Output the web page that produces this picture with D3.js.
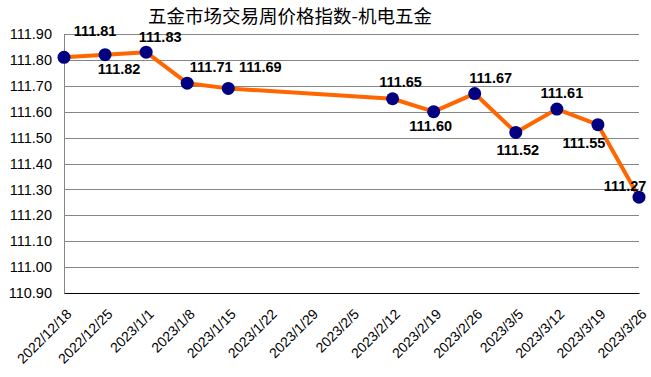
<!DOCTYPE html>
<head>
<meta charset="utf-8">
<title>五金市场交易周价格指数-机电五金</title>
<style>
  body { margin: 0; background: #fff; }
  text { font-family: "Liberation Sans", Arial, sans-serif; }
</style>
</head>
<body>
<svg width="651" height="377"></svg>
<script src="https://d3js.org/d3.v7.min.js"></script>
<script>
    // weekly dates and index values (null = no survey that week)
    const weeks = ["2022/12/18", "2022/12/25", "2023/1/1", "2023/1/8", "2023/1/15",
        "2023/1/22", "2023/1/29", "2023/2/5", "2023/2/12", "2023/2/19",
        "2023/2/26", "2023/3/5", "2023/3/12", "2023/3/19", "2023/3/26"];
    const values = [111.81, 111.82, 111.83, 111.71, 111.69,
        null, null, null, 111.65, 111.60,
        111.67, 111.52, 111.61, 111.55, 111.27];
    const yTicks = [110.9, 111.0, 111.1, 111.2, 111.3, 111.4, 111.5, 111.6, 111.7, 111.8, 111.9];

    // where each value label sits relative to its point
    const labelOffset = {
        "2022/12/18": [31, -21], "2022/12/25": [14, 19], "2023/1/1": [14, -10],
        "2023/1/8": [24, -11], "2023/1/15": [32, -16], "2023/2/12": [8, -12],
        "2023/2/19": [-3, 19], "2023/2/26": [16, -11], "2023/3/5": [2, 23],
        "2023/3/12": [5, -11], "2023/3/19": [-14, 23], "2023/3/26": [-14, -6]
    };

    const svg = d3.select("svg");
    const margin = { top: 34, right: 12, bottom: 84, left: 64 };
    const width = 651 - margin.left - margin.right;
    const height = 377 - margin.top - margin.bottom;

    const data = weeks.map((w, i) => ({ week: w, value: values[i] }))
        .filter(d => d.value != null);

    const x = d3.scalePoint().domain(weeks).range([0, width]);
    const y = d3.scaleLinear().domain([110.9, 111.9]).range([height, 0]);

    svg.append("text")
        .attr("x", 290)
        .attr("y", 23)
        .attr("text-anchor", "middle")
        .style("font-family", "'Noto Sans CJK SC', sans-serif")
        .style("font-size", "18.5px")
        .style("fill", "#000")
        .text("五金市场交易周价格指数-机电五金");

    const g = svg.append("g")
        .attr("transform", `translate(${margin.left},${margin.top})`);

    // gridlines
    g.append("g")
        .selectAll("line")
        .data(yTicks.slice(1))
        .enter().append("line")
        .attr("x1", 0)
        .attr("x2", width)
        .attr("y1", d => Math.round(y(d)) + 0.5)
        .attr("y2", d => Math.round(y(d)) + 0.5)
        .style("stroke", "#868686");

    // y axis
    const yAxis = g.append("g")
        .call(d3.axisLeft(y).tickValues(yTicks).tickFormat(d3.format(".2f")).tickSize(0).tickPadding(12));
    yAxis.select(".domain").style("stroke", "#868686");
    yAxis.selectAll("text")
        .style("font-size", "14.5px")
        .style("fill", "#000");

    // x axis
    const xAxis = g.append("g")
        .attr("transform", `translate(0,${height})`)
        .call(d3.axisBottom(x).tickSize(0).tickPadding(0));
    xAxis.select(".domain").style("stroke", "#000");
    xAxis.selectAll("text")
        .attr("text-anchor", "end")
        .attr("dy", "0")
        .attr("transform", "translate(8,22) rotate(-45)")
        .style("font-size", "14px")
        .style("fill", "#000");

    const line = d3.line()
        .x(d => x(d.week))
        .y(d => y(d.value));

    g.append("path")
        .datum(data)
        .attr("d", line)
        .style("fill", "none")
        .style("stroke", "#FF6600")
        .style("stroke-width", 4)
        .style("stroke-linejoin", "round");

    g.selectAll(".dot")
        .data(data)
        .enter().append("circle")
        .attr("class", "dot")
        .attr("cx", d => x(d.week))
        .attr("cy", d => y(d.value))
        .attr("r", 6.5)
        .style("fill", "#000080");

    g.selectAll(".label")
        .data(data)
        .enter().append("text")
        .attr("class", "label")
        .attr("x", d => x(d.week) + labelOffset[d.week][0])
        .attr("y", d => y(d.value) + labelOffset[d.week][1])
        .attr("text-anchor", "middle")
        .style("font-size", "14.5px")
        .style("font-weight", "bold")
        .style("fill", "#000")
        .text(d => d.value.toFixed(2));
</script>
</body>
